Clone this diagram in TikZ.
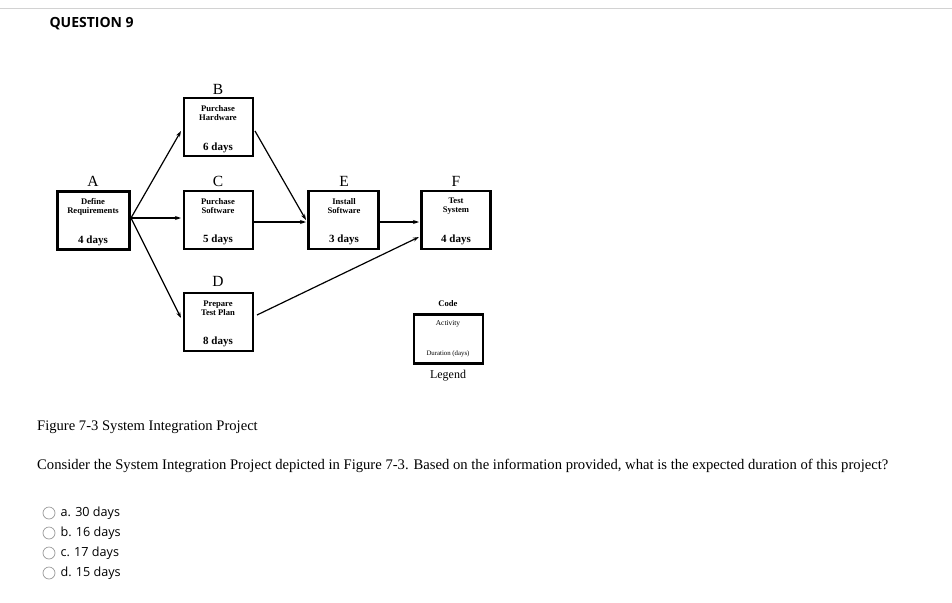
\documentclass[tikz,border=0pt]{standalone}
\usepackage{fontspec}
\setmainfont{Liberation Serif}
\newfontfamily\uisans{Open Sans}
\usetikzlibrary{arrows.meta}
\begin{document}
\begin{tikzpicture}[x=1pt,y=-1pt,
  act/.style={draw,line width=2.6pt,minimum width=69pt,minimum height=58pt,inner sep=0pt},
  nm/.style={font=\fontsize{8.6}{8.6}\selectfont\bfseries,align=center},
  dur/.style={font=\fontsize{11}{11}\selectfont\bfseries},
  code/.style={font=\fontsize{15.5}{15.5}\selectfont},
  conn/.style={line width=1.2pt,-{Stealth[length=6pt,width=4pt]}},
  opt/.style={font=\uisans\fontsize{12.6}{13}\selectfont,anchor=west},
  radio/.style={draw=gray!80,line width=0.7pt,circle,minimum size=12pt,inner sep=0pt}]
\useasboundingbox (0,0) rectangle (952,602);
\draw[gray!35] (0,8) -- (952,8);
\node[anchor=west,font=\uisans\bfseries\fontsize{14}{14}\selectfont] (q) at (46,24) {QUESTION 9};
% boxes
\node[act,minimum width=72pt] (A) at (93.5,220.5) {};
\node[act] (B) at (218.5,127) {};
\node[act] (C) at (218.5,220) {};
\node[act] (D) at (218.5,322) {};
\node[act,minimum width=70pt] (E) at (343.5,220) {};
\node[act] (F) at (456,220) {};
\node[act,line width=2.2pt,minimum height=49pt] (L) at (448.5,339) {};
% codes
\node[code] (cA) at (93,181) {A};
\node[code] (cB) at (218,89) {B};
\node[code] (cC) at (218,181) {C};
\node[code] (cD) at (218,281) {D};
\node[code] (cE) at (344,181) {E};
\node[code] (cF) at (456,181) {F};
% names
\node[nm] (nA) at (93,207) {Define\\Requirements};
\node[nm] (nB) at (218,113) {Purchase\\Hardware};
\node[nm] (nC) at (218,206) {Purchase\\Software};
\node[nm] (nD) at (218,308) {Prepare\\Test Plan};
\node[nm] (nE) at (344,206) {Install\\Software};
\node[nm] (nF) at (456,206) {Test\\System};
\node[dur] (dA) at (93,241) {4 days};
\node[dur] (dB) at (218,148) {6 days};
\node[dur] (dC) at (218,240) {5 days};
\node[dur] (dD) at (218,342) {8 days};
\node[dur] (dE) at (344,240) {3 days};
\node[dur] (dF) at (456,240) {4 days};
% legend
\node[font=\fontsize{8.6}{8.6}\selectfont\bfseries] (lc) at (448,304) {Code};
\node[font=\fontsize{7.4}{7.4}\selectfont] (la) at (448,324) {Activity};
\node[font=\fontsize{6.8}{7}\selectfont] (ld) at (448,354) {Duration (days)};
\node[font=\fontsize{12}{12}\selectfont] (lg) at (448,376) {Legend};
% connectors
\coordinate (a1) at (131,218); \coordinate (b1) at (181,131);
\draw[conn] (a1) -- (b1);
\draw[conn] (a1) -- (181,218) coordinate (c1);
\draw[conn] (a1) -- (181,318) coordinate (d1);
\draw[conn] (255,131) coordinate (b2) -- (306,220) coordinate (e1);
\draw[conn] (C.east|-222,222) -- (306,222) coordinate (e2);
\draw[conn] (E.east|-222,222) -- (419,222) coordinate (f1);
\draw[conn] (257,315) coordinate (d2) -- (419,237) coordinate (f2);
% text
\node[anchor=west,inner sep=0pt,font=\fontsize{14.6}{14.6}\selectfont] (fig) at (37,427) {Figure 7-3 System Integration Project};
\node[anchor=west,inner sep=0pt,font=\fontsize{14.65}{14.65}\selectfont] (qt) at (37,466) {Consider the System Integration Project depicted in Figure 7-3. Based on the information provided, what is the expected duration of this project?};
\foreach \y/\t [count=\i] in {513/a. 30 days,533/b. 16 days,553/c. 17 days,573/d. 15 days}{
  \node[radio] (r\i) at (49,\y) {};
  \node[opt] (o\i) at (57,\y) {\t};
}
\end{tikzpicture}
\end{document}
